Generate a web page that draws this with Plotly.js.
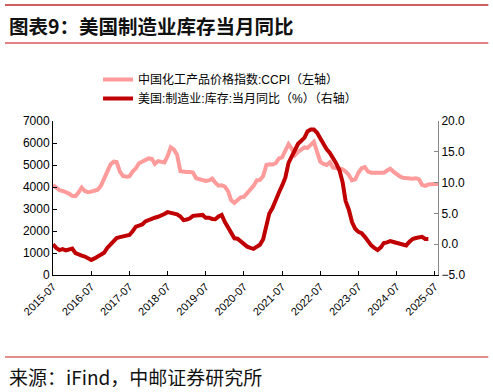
<!DOCTYPE html>
<html>
<head>
<meta charset="utf-8">
<script src="https://cdn.plot.ly/plotly-3.0.1.min.js"></script>
<style>html,body{margin:0;padding:0;background:#fff;}#chart{width:493px;height:392px;}</style>
</head>
<body>
<div id="chart"></div>
<script>
// Monthly series starting 2015-07
const startYear = 2015, startMonth = 7;

// 中国化工产品价格指数:CCPI (左轴), 2015-07 .. 2025-08
const ccpi = [
  4090, 3950, 3860, 3820, 3780, 3700, 3600, 3580, 3750, 3980,
  3820, 3760, 3790, 3830, 3880, 4050, 4350, 4700, 5020, 5150,
  5130, 4700, 4500, 4470, 4480, 4700, 4850, 5080, 5150, 5220,
  5300, 5280, 5050, 5180, 5150, 5120, 5400, 5800, 5700, 5450,
  4720, 4680, 4680, 4680, 4660, 4400, 4350, 4320, 4280, 4300,
  4380, 4200, 4060, 4080, 4020, 3800, 3400, 3280, 3400, 3530,
  3550, 3700, 3870, 4050, 4300, 4320, 4500, 5000, 5030, 5020,
  5080, 5300, 5350, 5700, 5950, 5750, 5450, 5600, 5700, 5800,
  5780, 5900, 6050, 5600, 5150, 5050, 5000, 5120, 4880, 4860,
  4850, 4800, 4700, 4550, 4300, 4350, 4650, 4850, 4900, 4700,
  4650, 4640, 4630, 4620, 4650, 4750, 4830, 4700, 4580, 4480,
  4420, 4400, 4400, 4380, 4400, 4350, 4100, 4050, 4120, 4150,
  4140, 4140
];

// 美国:制造业:库存:当月同比(%) (右轴), 2015-07 .. 2025-05
const usInv = [
  0.0, -0.6, -0.95, -0.8, -1.0, -0.9, -0.7, -1.45, -1.7, -1.85,
  -2.0, -2.2, -2.55, -2.3, -1.95, -1.7, -1.4, -0.6, 0.0, 0.6,
  1.0, 1.15, 1.25, 1.3, 1.5, 2.1, 2.85, 3.0, 3.2, 3.7,
  3.95, 4.1, 4.3, 4.45, 4.6, 4.9, 5.2, 5.1, 4.9, 4.85,
  4.5, 3.9, 4.0, 4.2, 4.6, 4.7, 4.7, 4.75, 4.3, 4.3,
  4.1, 4.05, 4.5, 4.75, 3.6, 2.7, 1.6, 0.95, 0.9, 0.4,
  -0.1, -0.4, -0.6, -0.75, -0.4, -0.1, 0.8, 3.0, 5.0, 5.9,
  7.3, 8.4, 9.5, 10.8, 13.2, 14.3, 15.4, 16.3, 16.8, 17.3,
  18.3, 18.6, 18.6, 18.1, 17.2, 16.2, 15.4, 14.8, 14.0, 13.1,
  12.0, 10.0, 7.0, 5.6, 3.6, 2.5, 2.0, 1.8, 1.2, 0.5,
  -0.2, -0.6, -0.95, -0.5, 0.2, 0.3, 0.5, 0.35, 0.2, 0.0,
  -0.15, -0.2, 0.4, 0.85, 1.0, 1.05, 1.2, 0.85, 0.85
];

const seriesNames = ['中国化工产品价格指数:CCPI（左轴）', '美国:制造业:库存:当月同比（%）（右轴）'];

function monthDates(n) {
  const out = [];
  for (let i = 0; i < n; i++) {
    const t = startMonth - 1 + i;
    const y = startYear + Math.floor(t / 12);
    const m = (t % 12) + 1;
    out.push(y + '-' + String(m).padStart(2, '0') + '-01');
  }
  return out;
}

const font = 'Liberation Sans, Arial, Noto Sans CJK SC, sans-serif';
const cjk = 'Noto Sans CJK SC, sans-serif';

const traces = [
  {x: monthDates(ccpi.length), y: ccpi, name: seriesNames[0], type: 'scatter', mode: 'lines',
   line: {color: '#FF9B9B', width: 4}, yaxis: 'y'},
  {x: monthDates(usInv.length), y: usInv, name: seriesNames[1], type: 'scatter', mode: 'lines',
   line: {color: '#C00000', width: 4}, yaxis: 'y2'}
];

const L = 53, R = 437.7, T = 121, B = 275;
const W = R - L, H = B - T;
const px = v => (v - L) / W;
const py = v => (B - v) / H;

const layout = {
  width: 493, height: 392,
  margin: {l: L, r: 493 - R, t: T, b: 392 - B, pad: 0},
  paper_bgcolor: '#fff', plot_bgcolor: '#fff',
  showlegend: true,
  legend: {x: px(98), y: py(65), xanchor: 'left', yanchor: 'top', bgcolor: 'rgba(0,0,0,0)',
           font: {family: font, size: 12, color: '#000'}, tracegroupgap: 0},
  xaxis: {type: 'date', range: ['2015-07-01', '2025-08-01'], tick0: '2015-07-01', dtick: 'M12',
          tickformat: '%Y-%m', tickangle: -45, ticks: 'inside', ticklen: 4, tickcolor: '#000',
          showline: true, linecolor: '#000', linewidth: 1, showgrid: false, zeroline: false,
          tickfont: {family: font, size: 11, color: '#000'}, fixedrange: true},
  yaxis: {range: [0, 7000], dtick: 1000, ticks: 'inside', ticklen: 4, tickcolor: '#000',
          showline: true, linecolor: '#000', linewidth: 1, showgrid: false, zeroline: false,
          tickfont: {family: font, size: 12, color: '#000'}},
  yaxis2: {range: [-5, 20], dtick: 5, tickformat: '.1f', overlaying: 'y', side: 'right',
           ticks: 'inside', ticklen: 4, tickcolor: '#888', showline: true, linecolor: '#888',
           linewidth: 1, showgrid: false, zeroline: false,
           tickfont: {family: font, size: 12, color: '#000'}},
  shapes: [
    {type: 'line', xref: 'paper', yref: 'paper', x0: px(5), x1: px(488), y0: py(5), y1: py(5),
     line: {color: '#C0282B', width: 1.5}},
    {type: 'line', xref: 'paper', yref: 'paper', x0: px(5), x1: px(488), y0: py(43), y1: py(43),
     line: {color: '#D9585A', width: 1.5}},
    {type: 'line', xref: 'paper', yref: 'paper', x0: px(5), x1: px(488), y0: py(357), y1: py(357),
     line: {color: '#D9686A', width: 1.5}}
  ],
  annotations: [
    {text: '<b>图表9：美国制造业库存当月同比</b>', xref: 'paper', yref: 'paper', x: px(7), y: py(25),
     xanchor: 'left', yanchor: 'middle', showarrow: false, font: {family: cjk, size: 19.5, color: '#111'}},
    {text: '来源：iFind，中邮证券研究所', xref: 'paper', yref: 'paper', x: px(7), y: py(376),
     xanchor: 'left', yanchor: 'middle', showarrow: false, font: {family: cjk, size: 19, color: '#111'}}
  ]
};

Plotly.newPlot('chart', traces, layout, {staticPlot: true, displayModeBar: false});
</script>
</body>
</html>
